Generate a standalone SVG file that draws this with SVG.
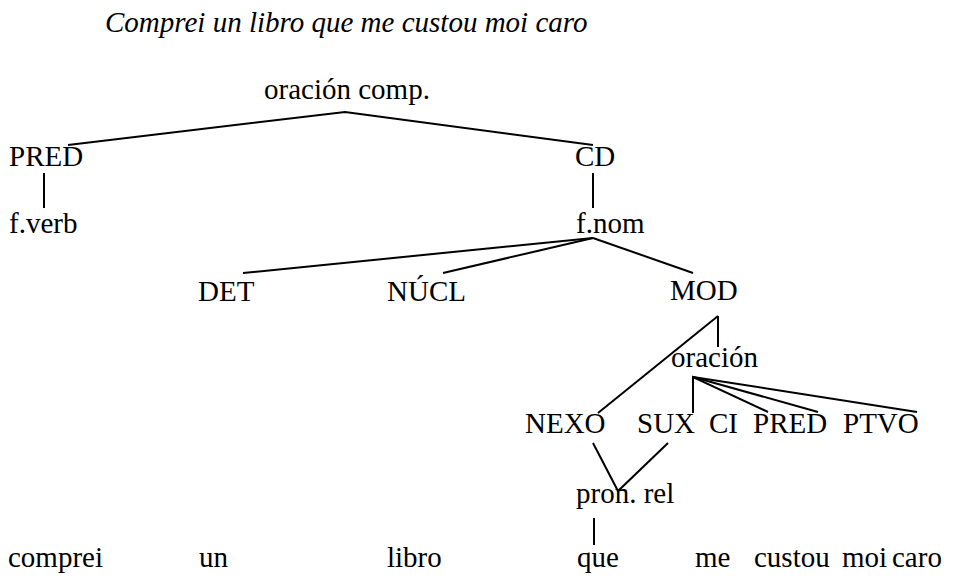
<svg xmlns="http://www.w3.org/2000/svg" width="975" height="576" viewBox="0 0 975 576">
<style>
text{font-family:"Liberation Serif","Times New Roman",serif;font-size:29px;fill:#000}
.t{font-style:italic}
.c line,.c polyline{stroke:#000;stroke-width:2;fill:none}
</style>
<rect width="975" height="576" fill="#fff"/>
<text class="t" x="105" y="32">Comprei un libro que me custou moi caro</text>
<g class="c" id="connectors">
<polyline points="68,145 345,112 593,145"/>
<line x1="44" y1="173" x2="44" y2="208"/>
<line x1="593" y1="173" x2="593" y2="208"/>
<line x1="593" y1="238" x2="243" y2="273"/>
<line x1="593" y1="238" x2="443" y2="273"/>
<line x1="593" y1="238" x2="693" y2="273"/>
<line x1="718" y1="316" x2="718" y2="347"/>
<line x1="718" y1="316" x2="598" y2="413"/>
<polyline points="693,413 693,377 768,412"/>
<line x1="693" y1="377" x2="818" y2="412"/>
<line x1="693" y1="377" x2="917" y2="412"/>
<polyline points="593,443 618,491 668,443"/>
<line x1="594" y1="518" x2="594" y2="545"/>
</g>
<g id="n-root"><text x="264" y="99">oración comp.</text></g>
<g id="n-pred"><text x="9" y="166">PRED</text></g>
<g id="n-fverb"><text x="9" y="233">f.verb</text></g>
<g id="n-cd"><text x="575" y="166">CD</text></g>
<g id="n-fnom"><text x="576" y="233">f.nom</text></g>
<g id="n-det"><text x="198" y="301">DET</text></g>
<g id="n-nucl"><text x="387" y="301">NÚCL</text></g>
<g id="n-mod"><text x="670" y="300">MOD</text></g>
<g id="n-oracion"><text x="671" y="367">oración</text></g>
<g id="n-nexo"><text x="525" y="433">NEXO</text></g>
<g id="n-sux"><text x="637" y="433">SUX</text></g>
<g id="n-ci"><text x="709" y="433">CI</text></g>
<g id="n-pred2"><text x="753" y="433">PRED</text></g>
<g id="n-ptvo"><text x="843" y="433">PTVO</text></g>
<g id="n-pronrel"><text x="576" y="503">pron. rel</text></g>
<g id="words">
<text x="8" y="567">comprei</text>
<text x="199" y="567">un</text>
<text x="387" y="567">libro</text>
<text x="577" y="567">que</text>
<text x="695" y="567">me</text>
<text x="754" y="567">custou</text>
<text x="842" y="567">moi</text>
<text x="892" y="567">caro</text>
</g>
</svg>
